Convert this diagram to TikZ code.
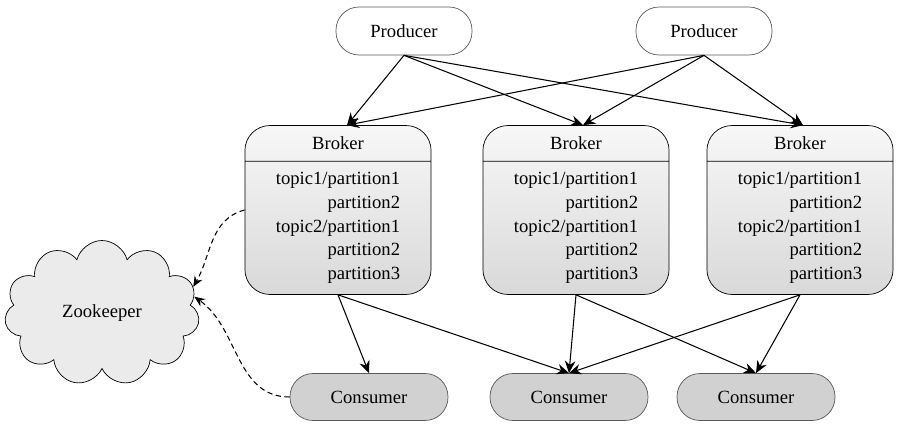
\documentclass[tikz,border=0pt]{standalone}
\usepackage{fontspec}
\setmainfont{Liberation Serif}
\usetikzlibrary{shapes.multipart,shapes.symbols,arrows.meta}
\tikzset{prod/.style={draw=black!65, fill=white, rounded corners=0.46cm, minimum width=2.72cm, minimum height=0.96cm},
  cons/.style={draw=black!65, fill=black!18, rounded corners=0.46cm, minimum width=3.16cm, minimum height=0.94cm},
  brk/.style={draw, rectangle split, rectangle split parts=2, rounded corners=0.5cm, top color=black!3, bottom color=black!15, align=right, inner xsep=0.62cm, inner ysep=0.22cm},
  link/.style={-{Stealth[length=7pt,width=6pt]}, line width=0.6pt},
  zklink/.style={densely dashed, -{Stealth[length=6pt,width=5pt]}, line width=0.6pt}}

\begin{document}
\begin{tikzpicture}[x=0.02cm, y=-0.02cm, font=\fontsize{10.6}{13.4}\selectfont]
\useasboundingbox (0,0) rectangle (900,429);
% producers
\node (p1) [prod] at (404,31) {Producer};
\node (p2) [prod] at (704,31) {Producer};
% brokers
\foreach \name/\x in {b1/338, b2/576, b3/800}
  \node (\name) [brk] at (\x,210) {Broker \nodepart{two} topic1/partition1\\partition2\\topic2/partition1\\partition2\\partition3};
% consumers
\node (c1) [cons] at (369,397) {Consumer};
\node (c2) [cons] at (569,397) {Consumer};
\node (c3) [cons] at (756,397) {Consumer};
\node (zk) [cloud, cloud puffs=11, aspect=1.4, draw, fill=black!8, minimum width=3.9cm, minimum height=2.9cm] at (102,313) {Zookeeper};
% producer -> broker
\draw[link] (p1.south) -- ([xshift=0.18cm]b1.north);
\draw[link] (p1.south) -- ([xshift=0.14cm]b2.north);
\draw[link] (p1.south) -- ([xshift=0.06cm]b3.north);
\draw[link] (p2.south) -- ([xshift=0.18cm]b1.north);
\draw[link] (p2.south) -- ([xshift=0.14cm]b2.north);
\draw[link] (p2.south) -- ([xshift=0.06cm]b3.north);
% broker -> consumer
\draw[link] (b1.south) -- (c1.north);
\draw[link] (b1.south) -- (c2.north);
\draw[link] (b2.south) -- (c2.north);
\draw[link] (b2.south) -- (c3.north);
\draw[link] (b3.south) -- (c2.north);
\draw[link] (b3.south) -- (c3.north);
% zookeeper
\draw[zklink] (b1.west) to[out=195,in=60] (zk.16);
\draw[zklink] (c1.west) to[out=180,in=-35] (zk.10);
\end{tikzpicture}
\end{document}
